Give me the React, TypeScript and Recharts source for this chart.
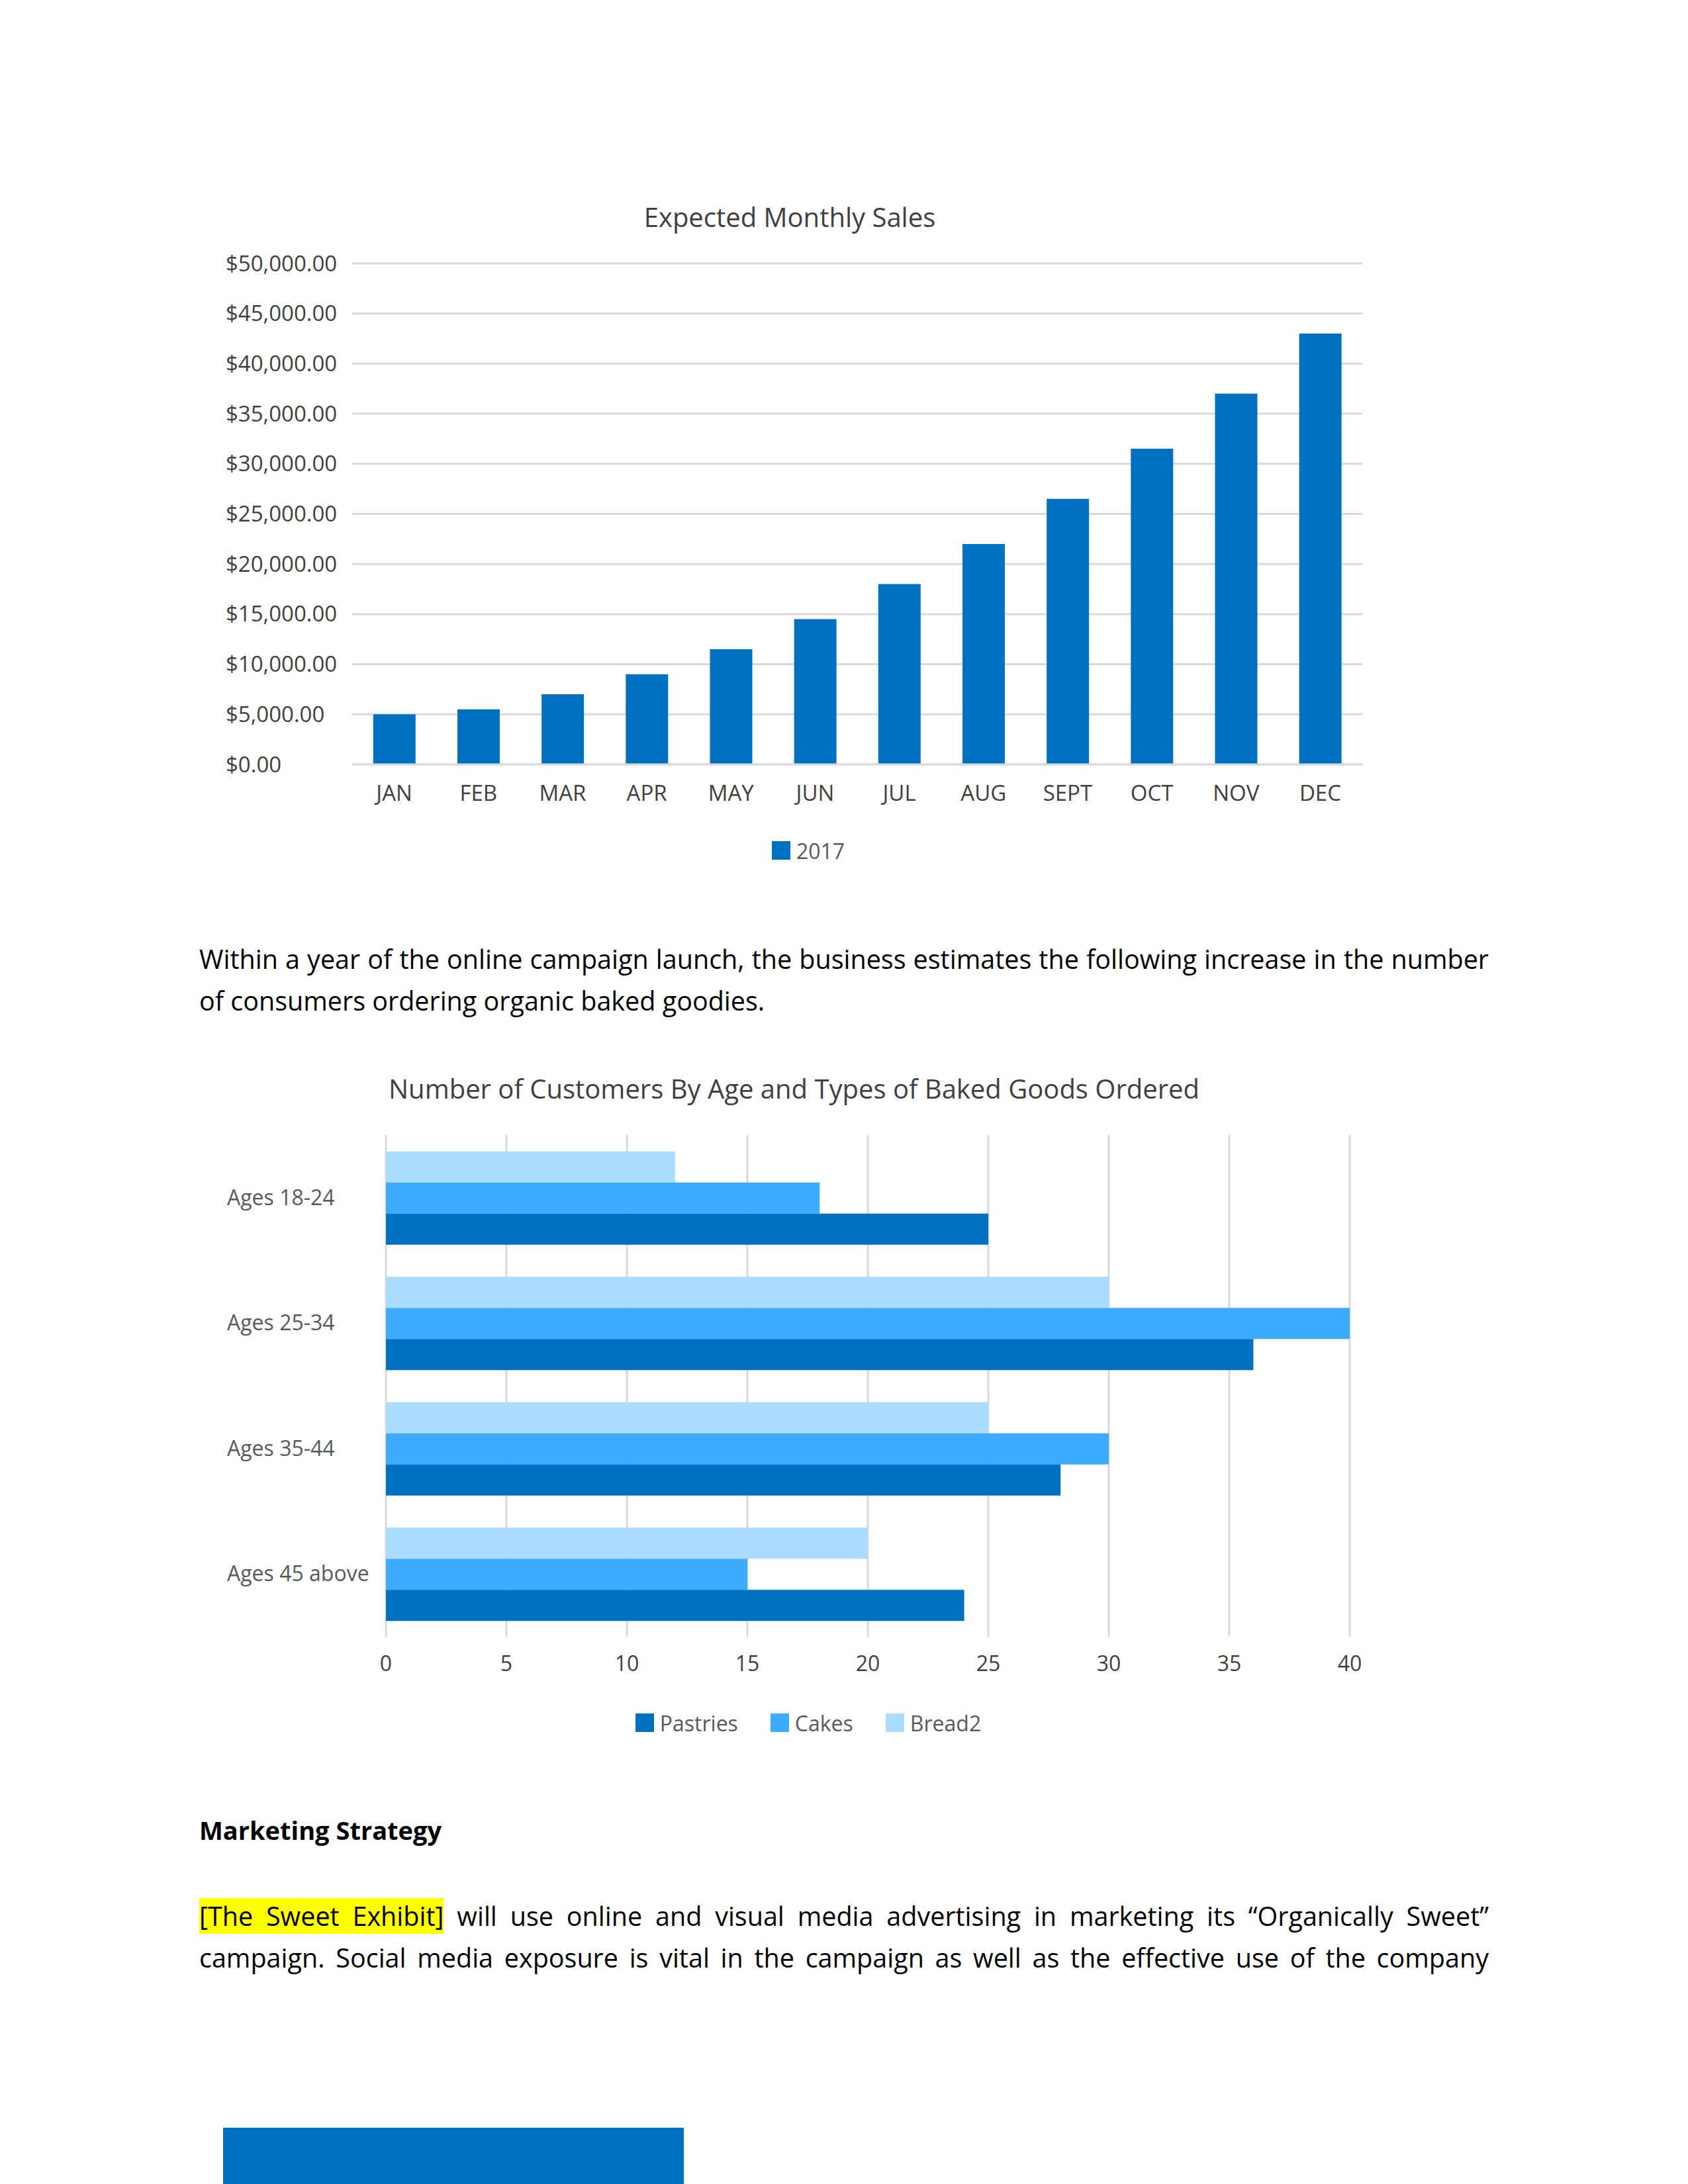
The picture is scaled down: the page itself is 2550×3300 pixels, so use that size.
import React from 'react';
import { BarChart, Bar, XAxis, YAxis, CartesianGrid, Legend } from 'recharts';

// chart 1: expected monthly sales
const months = ['JAN', 'FEB', 'MAR', 'APR', 'MAY', 'JUN', 'JUL', 'AUG', 'SEPT', 'OCT', 'NOV', 'DEC'];
const sales2017 = [5000, 5500, 7000, 9000, 11500, 14500, 18000, 22000, 26500, 31500, 37000, 43000];
const salesTicks = [0, 5000, 10000, 15000, 20000, 25000, 30000, 35000, 40000, 45000, 50000];

// chart 2: customers by age group
const ageGroups = ['Ages 18-24', 'Ages 25-34', 'Ages 35-44', 'Ages 45 above'];
const pastries = [25, 36, 28, 24];
const cakes = [18, 40, 30, 15];
const bread2 = [12, 30, 25, 20];
const customerTicks = [0, 5, 10, 15, 20, 25, 30, 35, 40];

const FONT = '"Open Sans", sans-serif';
const BLUE = '#0070C0';
const CAKES = '#3DABFF';
const BREAD = '#ABDBFF';
const GRID = '#D9D9D9';

const salesData = months.map((m, i) => ({ month: m, sales: sales2017[i] }));
const customerData = ageGroups.map((g, i) => ({
  group: g,
  pastries: pastries[i],
  cakes: cakes[i],
  bread2: bread2[i],
}));

const money = (v: number) =>
  '$' + v.toLocaleString('en-US', { minimumFractionDigits: 2, maximumFractionDigits: 2 });

type LegendItem = { label: string; color: string };

function LegendRow({ items, height, shift }: { items: LegendItem[]; height: number; shift: number }) {
  return (
    <div
      style={{
        height,
        display: 'flex',
        justifyContent: 'center',
        alignItems: 'center',
        paddingLeft: shift,
        fontFamily: FONT,
        fontSize: 32,
        color: '#595959',
      }}
    >
      {items.map((it, i) => (
        <div
          key={it.label}
          style={{ display: 'flex', alignItems: 'center', marginRight: i < items.length - 1 ? 49 : 0 }}
        >
          <span style={{ width: 28, height: 28, background: it.color, marginRight: 9, display: 'inline-block' }} />
          {it.label}
        </div>
      ))}
    </div>
  );
}

// left-aligned category labels
function AgeTick({ y, payload }: any) {
  return (
    <text x={13} y={y} dy="0.35em" textAnchor="start" fill="#595959" fontSize={32} fontFamily={FONT}>
      {payload.value}
    </text>
  );
}

// left-aligned money labels
function MoneyTick({ y, payload }: any) {
  return (
    <text x={11} y={y} dy="0.35em" textAnchor="start" fill="#404040" fontSize={33} fontFamily={FONT}>
      {money(payload.value)}
    </text>
  );
}

const abs = (left: number, top: number): React.CSSProperties => ({ position: 'absolute', left, top });

const bodyText: React.CSSProperties = {
  fontFamily: FONT,
  fontSize: 39.5,
  lineHeight: '63px',
  color: '#000',
  width: 1948,
  whiteSpace: 'nowrap',
};

const justified: React.CSSProperties = { ...bodyText, textAlign: 'justify', textAlignLast: 'justify' };

const titleStyle: React.CSSProperties = { fontFamily: FONT, fontSize: 40, lineHeight: '50px', color: '#404040' };

export default function App() {
  return (
    <div style={{ position: 'absolute', left: 0, top: 0, width: 2550, height: 3300, background: '#fff', overflow: 'hidden' }}>
      {/* chart 1 */}
      <div style={{ ...abs(330, 303), width: 1760, textAlign: 'center', paddingRight: 34, boxSizing: 'border-box' }}>
        <span style={titleStyle}>Expected Monthly Sales</span>
      </div>
      <div style={abs(330, 280)}>
        <BarChart
          width={1760}
          height={1035}
          data={salesData}
          margin={{ top: 118, right: 32, left: 0, bottom: 0 }}
          barCategoryGap="25%"
        >
          <CartesianGrid vertical={false} stroke={GRID} strokeWidth={3} />
          <XAxis
            dataKey="month"
            axisLine={{ stroke: GRID, strokeWidth: 3 }}
            tickLine={false}
            tickMargin={26}
            height={100}
            interval={0}
            tick={{ fill: '#404040', fontSize: 33, fontFamily: FONT }}
          />
          <YAxis
            domain={[0, 50000]}
            ticks={salesTicks}
            axisLine={false}
            tickLine={false}
            width={202}
            interval={0}
            tick={<MoneyTick />}
          />
          <Legend
            verticalAlign="bottom"
            content={() => <LegendRow items={[{ label: '2017', color: BLUE }]} height={60} shift={54} />}
          />
          <Bar dataKey="sales" name="2017" fill={BLUE} isAnimationActive={false} />
        </BarChart>
      </div>

      {/* paragraph */}
      <div style={{ ...justified, ...abs(301, 1418) }}>
        Within a year of the online campaign launch, the business estimates the following increase in the number
      </div>
      <div style={{ ...bodyText, ...abs(301, 1481) }}>of consumers ordering organic baked goodies.</div>

      {/* chart 2 */}
      <div style={{ ...abs(330, 1620), width: 1760, textAlign: 'center', paddingRight: 21, boxSizing: 'border-box' }}>
        <span style={titleStyle}>Number of Customers By Age and Types of Baked Goods Ordered</span>
      </div>
      <div style={abs(330, 1600)}>
        <BarChart
          width={1760}
          height={1043}
          data={customerData}
          layout="vertical"
          margin={{ top: 115, right: 51, left: 0, bottom: 0 }}
          barCategoryGap="13%"
          barGap={0}
        >
          <CartesianGrid horizontal={false} stroke={GRID} strokeWidth={3} />
          <XAxis
            type="number"
            domain={[0, 40]}
            ticks={customerTicks}
            axisLine={false}
            tickLine={false}
            tickMargin={23}
            height={90}
            interval={0}
            tick={{ fill: '#404040', fontSize: 32, fontFamily: FONT }}
          />
          <YAxis
            type="category"
            dataKey="group"
            axisLine={false}
            tickLine={false}
            width={253}
            interval={0}
            tick={<AgeTick />}
          />
          <Legend
            verticalAlign="bottom"
            content={() => (
              <LegendRow
                items={[
                  { label: 'Pastries', color: BLUE },
                  { label: 'Cakes', color: CAKES },
                  { label: 'Bread2', color: BREAD },
                ]}
                height={80}
                shift={73}
              />
            )}
          />
          <Bar dataKey="bread2" name="Bread2" fill={BREAD} isAnimationActive={false} />
          <Bar dataKey="cakes" name="Cakes" fill={CAKES} isAnimationActive={false} />
          <Bar dataKey="pastries" name="Pastries" fill={BLUE} isAnimationActive={false} />
        </BarChart>
      </div>

      {/* marketing strategy */}
      <div style={{ ...bodyText, ...abs(301, 2734), fontSize: 38, fontWeight: 700 }}>Marketing Strategy</div>
      <div style={{ ...justified, ...abs(301, 2864) }}>
        <span style={{ background: '#FFFF00' }}>[The Sweet Exhibit]</span> will use online and visual media advertising in
        marketing its “Organically Sweet”
      </div>
      <div style={{ ...justified, ...abs(301, 2927) }}>
        campaign. Social media exposure is vital in the campaign as well as the effective use of the company
      </div>

      <div style={{ ...abs(337, 3215), width: 696, height: 85, background: BLUE }} />
    </div>
  );
}
